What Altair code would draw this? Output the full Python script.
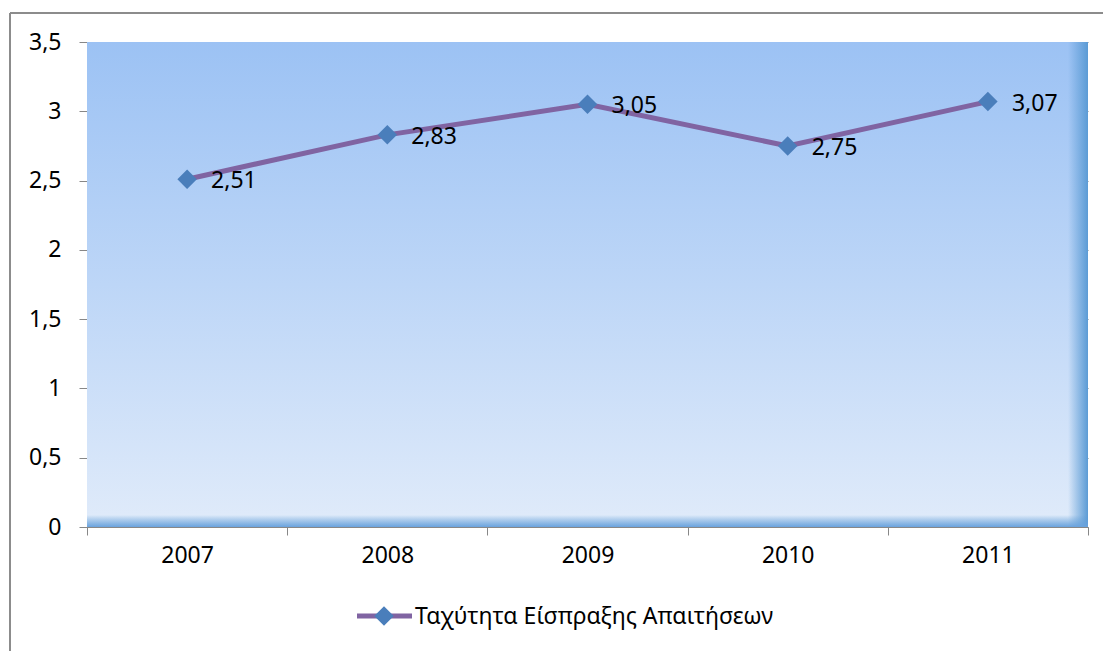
import altair as alt
import pandas as pd

years = ["2007", "2008", "2009", "2010", "2011"]
values = [2.51, 2.83, 3.05, 2.75, 3.07]
series_name = "Ταχύτητα Είσπραξης Απαιτήσεων"
y_ticks = [0, 0.5, 1, 1.5, 2, 2.5, 3, 3.5]

df = pd.DataFrame({"year": years, "value": values})
one = pd.DataFrame({"a": [0]})

W, H = 1001, 485
FONT = "Noto Sans"
FS = 23
GRAY = "#878787"

xscale = alt.Scale(domain=years, paddingInner=0, paddingOuter=0)
yscale = alt.Scale(domain=[0, 3.5], nice=False)

bg = alt.Chart(one).mark_rect(
    fill=alt.Gradient(gradient="linear", x1=0, x2=0, y1=0, y2=1,
                      stops=[alt.GradientStop(offset=0, color="#9cc2f4"),
                             alt.GradientStop(offset=0.5, color="#bdd6f7"),
                             alt.GradientStop(offset=1, color="#e0ebfa")])
).encode(x=alt.value(0), x2=alt.value(W), y=alt.value(0), y2=alt.value(H))

right_strip = alt.Chart(one).mark_rect(
    fill=alt.Gradient(gradient="linear", x1=0, x2=1, y1=0, y2=0,
                      stops=[alt.GradientStop(offset=0, color="rgba(91,155,213,0)"),
                             alt.GradientStop(offset=1, color="#5b9bd5")])
).encode(x=alt.value(W - 20), x2=alt.value(W), y=alt.value(0), y2=alt.value(H))

bottom_strip = alt.Chart(one).mark_rect(
    fill=alt.Gradient(gradient="linear", x1=0, x2=0, y1=0, y2=1,
                      stops=[alt.GradientStop(offset=0, color="rgba(91,155,213,0)"),
                             alt.GradientStop(offset=1, color="#6aa3de")])
).encode(x=alt.value(0), x2=alt.value(W), y=alt.value(H - 12), y2=alt.value(H))

base = alt.Chart(df).encode(
    x=alt.X("year:N", scale=xscale, sort=years,
            axis=alt.Axis(title=None, labelAngle=0, tickBand="extent", domainColor=GRAY,
                          tickColor=GRAY, tickSize=8, labelPadding=9, grid=False,
                          labelFont=FONT, labelFontSize=FS, labelColor="black")),
    y=alt.Y("value:Q", scale=yscale,
            axis=alt.Axis(title=None, values=y_ticks, domainColor=GRAY, tickColor=GRAY,
                          tickSize=8, labelPadding=18, gridColor=GRAY, gridWidth=1.2,
                          labelFont=FONT, labelFontSize=FS, labelColor="black",
                          labelExpr="replace(toString(datum.value), '.', ',')")),
)

line = base.mark_line(color="#8064a2", strokeWidth=5)
pts = base.mark_point(shape="diamond", filled=True, fill="#4a7ebb", size=380, opacity=1)
labels = base.mark_text(align="left", baseline="middle", dx=24, dy=2, font=FONT,
                        fontSize=FS, color="black").encode(
    text=alt.Text("lbl:N")).transform_calculate(
    lbl="replace(format(datum.value, '.2f'), '.', ',')")

# legend
leg_line = alt.Chart(one).mark_rule(color="#8064a2", strokeWidth=5).encode(
    x=alt.value(270), x2=alt.value(325), y=alt.value(574))
leg_pt = alt.Chart(one).mark_point(shape="diamond", filled=True, fill="#4a7ebb",
                                   size=380, opacity=1).encode(
    x=alt.value(297), y=alt.value(574))
leg_txt = alt.Chart(pd.DataFrame({"t": [series_name]})).mark_text(
    align="left", baseline="middle", font=FONT, fontSize=FS, color="black").encode(
    x=alt.value(328), y=alt.value(575), text="t:N")

# outer frame (left and top)
frame_l = alt.Chart(one).mark_rule(color="#8c8c8c", strokeWidth=2).encode(
    x=alt.value(-77), y=alt.value(-29), y2=alt.value(H + 140))
frame_t = alt.Chart(one).mark_rule(color="#8c8c8c", strokeWidth=2).encode(
    x=alt.value(-77), x2=alt.value(W + 15), y=alt.value(-29))

chart = alt.layer(
    bg, right_strip, bottom_strip, line, pts, labels,
    leg_line, leg_pt, leg_txt, frame_l, frame_t
).properties(
    width=W, height=H,
    autosize=alt.AutoSizeParams(type="none"),
    padding={"left": 87, "top": 42, "right": 15, "bottom": 124},
).configure_view(strokeWidth=0)

chart.save("out.html", embed_options={"renderer": "svg", "actions": False})
